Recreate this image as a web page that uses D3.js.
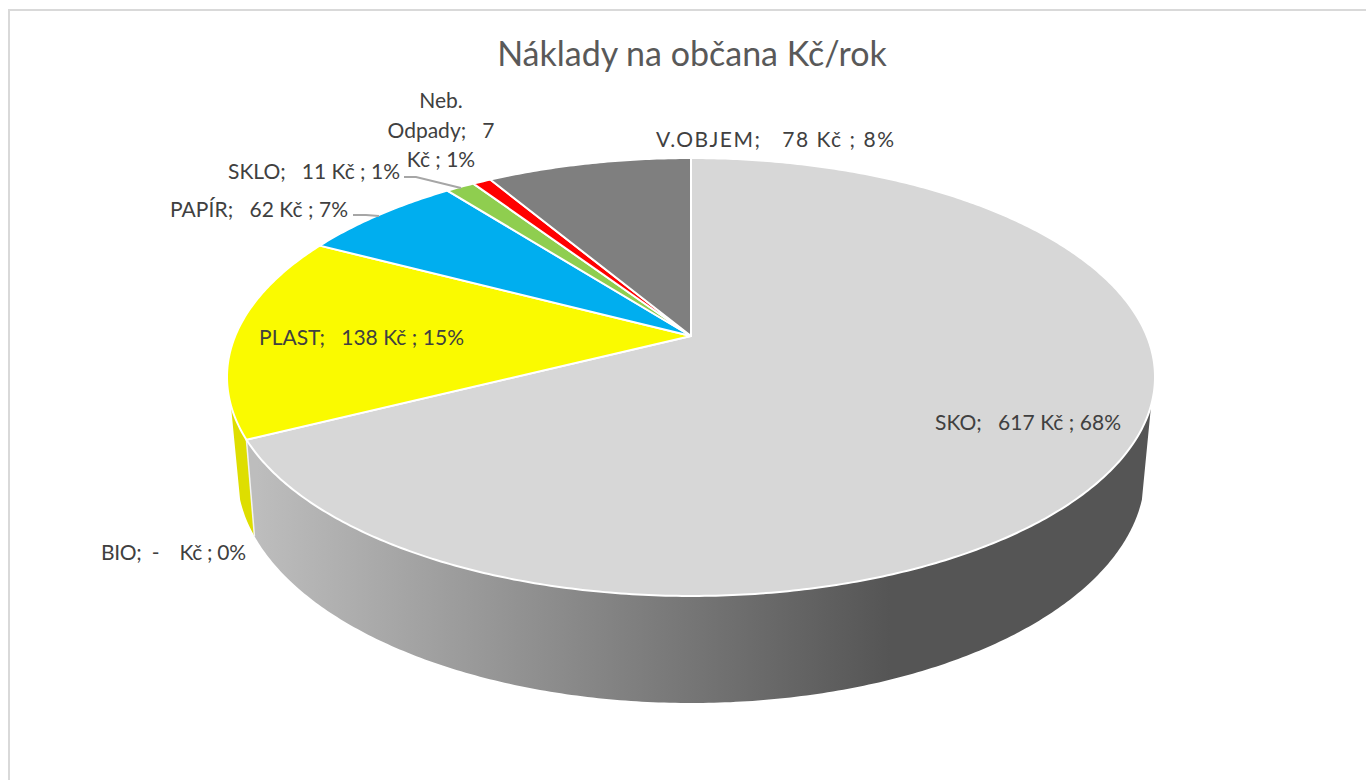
<!DOCTYPE html>
<html>
<head>
<meta charset="utf-8">
<script src="https://cdn.jsdelivr.net/npm/d3@7"></script>
<style>
  body { margin: 0; background: #fff; overflow: hidden; }
  text { font-family: Lato, "Open Sans", sans-serif; white-space: pre; }
</style>
</head>
<body>
<div id="chart"></div>
<script>
// Values
const categories = ['SKO', 'BIO', 'PLAST', 'PAPÍR', 'SKLO', 'Neb. Odpady', 'V.OBJEM'];
const costs = [617, 0, 138, 62, 11, 7, 78];
const percents = [68, 0, 15, 7, 1, 1, 8];
const topColors = ['#d7d7d7', '#ffff00', '#fafa00', '#00aeef', '#8fce4f', '#ff0000', '#7f7f7f'];

// Label placement (x, y of the text middle line, anchor, width on the picture)
const labelPlaces = [
    { x: 935, y: 423, anchor: 'start', w: 186 },
    { x: 101, y: 553, anchor: 'start', w: 145 },
    { x: 259, y: 338, anchor: 'start', w: 205 },
    { x: 170, y: 210, anchor: 'start', w: 178 },
    { x: 228, y: 172, anchor: 'start', w: 172 },
    { x: 441, y: 101, anchor: 'middle' },
    { x: 656, y: 140, anchor: 'start', w: 238 }
];

const width = 1366;
const height = 780;

// Perspective of the pie: top face and bottom face are two projected circles
const topFace = { cx: 691, cy: 336, a: 455.8, b: 211.3, k: 0.1872 };
const bottomFace = { cx: 691, cy: 427, a: 444.8, b: 220.8, k: 0.2 };
const silhouetteAngle = 108 * Math.PI / 180;

function project(face, angle) {
    const u = Math.sin(angle);
    const v = Math.cos(angle);
    const w = 1 + face.k * v;
    return [face.cx + face.a * u / w, face.cy - face.b * v / w];
}

function arcPoints(face, from, to) {
    const n = Math.max(2, Math.ceil(Math.abs(to - from) / 0.01));
    return d3.range(n + 1).map(i => project(face, from + (to - from) * i / n));
}

const line = d3.line();

const svg = d3.select('#chart')
    .append('svg')
    .attr('width', width)
    .attr('height', height)
    .style('display', 'block');

// Chart frame: only the top and left edges are in the picture
svg.append('path')
    .attr('d', line([[9, height], [9, 10], [width, 10]]))
    .attr('fill', 'none')
    .attr('stroke', '#d9d9d9')
    .attr('stroke-width', 2);

// Side wall gradient
const gradient = svg.append('defs')
    .append('linearGradient')
    .attr('id', 'wall')
    .attr('gradientUnits', 'userSpaceOnUse')
    .attr('x1', 257).attr('x2', 890)
    .attr('y1', 0).attr('y2', 0);
gradient.append('stop').attr('offset', 0).attr('stop-color', '#bdbdbd');
gradient.append('stop').attr('offset', 1).attr('stop-color', '#555555');

const pie = d3.pie().sort(null).value(d => d)
    .startAngle(0)
    .endAngle(2 * Math.PI);
const slices = pie(costs);

function wallPath(from, to) {
    const pts = arcPoints(topFace, from, to).concat(arcPoints(bottomFace, to, from));
    return line(pts) + 'Z';
}

// Side walls: only what faces the viewer
const sko = slices[0];
svg.append('path')
    .attr('d', wallPath(silhouetteAngle, sko.endAngle))
    .attr('fill', 'url(#wall)');
svg.append('path')
    .attr('d', wallPath(sko.endAngle, 2 * Math.PI - silhouetteAngle))
    .attr('fill', '#dede00');
svg.append('path')
    .attr('d', line([project(topFace, sko.endAngle), project(bottomFace, sko.endAngle)]))
    .attr('stroke', '#f2f2f2')
    .attr('stroke-width', 1.5)
    .attr('fill', 'none');

// Top face
svg.selectAll('.slice')
    .data(slices.filter(d => d.value > 0))
    .enter()
    .append('path')
    .attr('class', 'slice')
    .attr('d', d => line([[topFace.cx, topFace.cy]].concat(arcPoints(topFace, d.startAngle, d.endAngle))) + 'Z')
    .attr('fill', d => topColors[d.index])
    .attr('stroke', '#fff')
    .attr('stroke-width', 2)
    .attr('stroke-linejoin', 'round');

// Leader lines
const leaders = [
    { cat: 3, pts: [[353, 215], [366, 215], [379, 216]] },
    { cat: 4, pts: [[404, 177], [416, 177], [461, 188]] }
];
svg.selectAll('.leader')
    .data(leaders)
    .enter()
    .append('path')
    .attr('class', 'leader')
    .attr('d', d => line(d.pts))
    .attr('fill', 'none')
    .attr('stroke', '#a6a6a6')
    .attr('stroke-width', 2);

// Title
svg.append('text')
    .attr('x', 692)
    .attr('y', 66)
    .attr('text-anchor', 'middle')
    .attr('fill', '#595959')
    .style('font-size', '34px')
    .text('Náklady na občana Kč/rok');

// Data labels
function labelLines(i) {
    const value = costs[i] === 0 ? '  -   ' : '   ' + costs[i];
    if (i === 5) return ['Neb.', 'Odpady;   ' + costs[i], 'Kč ; ' + percents[i] + '%'];
    return [categories[i] + ';' + value + ' Kč ; ' + percents[i] + '%'];
}

categories.forEach((cat, i) => {
    const place = labelPlaces[i];
    labelLines(i).forEach((txt, j) => {
        const label = svg.append('text')
            .attr('x', place.x)
            .attr('y', place.y + j * 29.5)
            .attr('dy', '0.35em')
            .attr('text-anchor', place.anchor)
            .attr('fill', '#404040')
            .style('font-size', '21px')
            .text(txt);
        if (place.w) label.attr('textLength', place.w).attr('lengthAdjust', 'spacing');
    });
});
</script>
</body>
</html>
